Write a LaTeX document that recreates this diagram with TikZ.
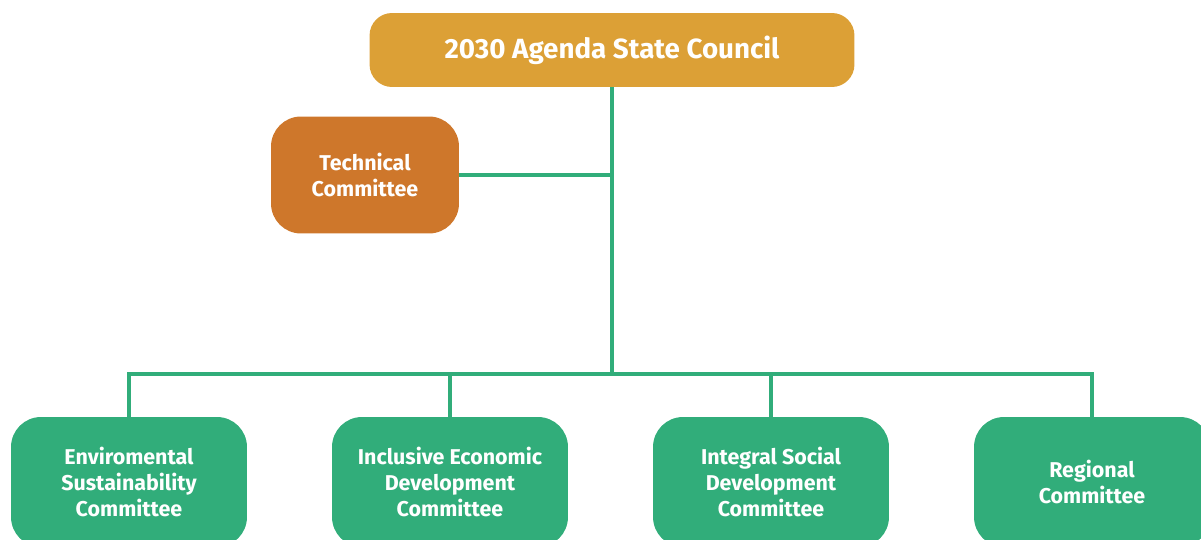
\documentclass[tikz,border=0pt]{standalone}
\usepackage{fontspec}
\setmainfont{Fira Sans}
\definecolor{councilgold}{HTML}{DCA036}
\definecolor{techorange}{HTML}{CE772B}
\definecolor{committeegreen}{HTML}{31AD7A}
\begin{document}
\begin{tikzpicture}[
    x=0.02cm, y=-0.02cm,
    % Style for the colored boxes
    box/.style={rectangle, rounded corners=0.5cm, text=white, align=center,
        font=\bfseries\fontsize{12.2pt}{14.7pt}\selectfont, inner sep=0pt},
    council box/.style={box, fill=councilgold, minimum width=9.7cm, minimum height=1.48cm,
        rounded corners=0.45cm, font=\bfseries\fontsize{15.8pt}{18pt}\selectfont},
    tech box/.style={box, fill=techorange, minimum width=3.76cm, minimum height=2.34cm,
        rounded corners=0.6cm},
    committee box/.style={box, fill=committeegreen, minimum width=4.72cm, minimum height=2.6cm,
        rounded corners=0.6cm},
    % Style for the green connectors
    link/.style={draw=committeegreen, line width=2.8pt}
]

    \useasboundingbox (0,0) rectangle (1201,540);
    \clip (0,0) rectangle (1201,540);

    % --- 1. Define Coordinates ---
    \coordinate (techjoin) at (612,175);
    \coordinate (hub) at (612,374);

    % --- 2. Draw Nodes ---
    \node[council box] (council) at (612,50) {2030 Agenda State Council};
    \node[tech box] (technical) at (365,175) {Technical\\Committee};

    \node[committee box] (env) at (129,482) {Enviromental\\Sustainability\\Committee};
    \node[committee box] (econ) at (450,482) {Inclusive Economic\\Development\\Committee};
    \node[committee box] (social) at (771,482) {Integral Social\\Development\\Committee};
    \node[committee box] (regional) at (1092,482) {Regional\\Committee};

    % --- 3. Draw Connectors ---
    % Trunk
    \draw[link] (council.south) -- (hub);
    \draw[link] (technical.east) -- (techjoin);

    % Bus to the committees
    \draw[link] (env.north) |- (hub) -| (regional.north);
    \draw[link] (econ.north) -- (econ.north |- hub);
    \draw[link] (social.north) -- (social.north |- hub);

\end{tikzpicture}
\end{document}
